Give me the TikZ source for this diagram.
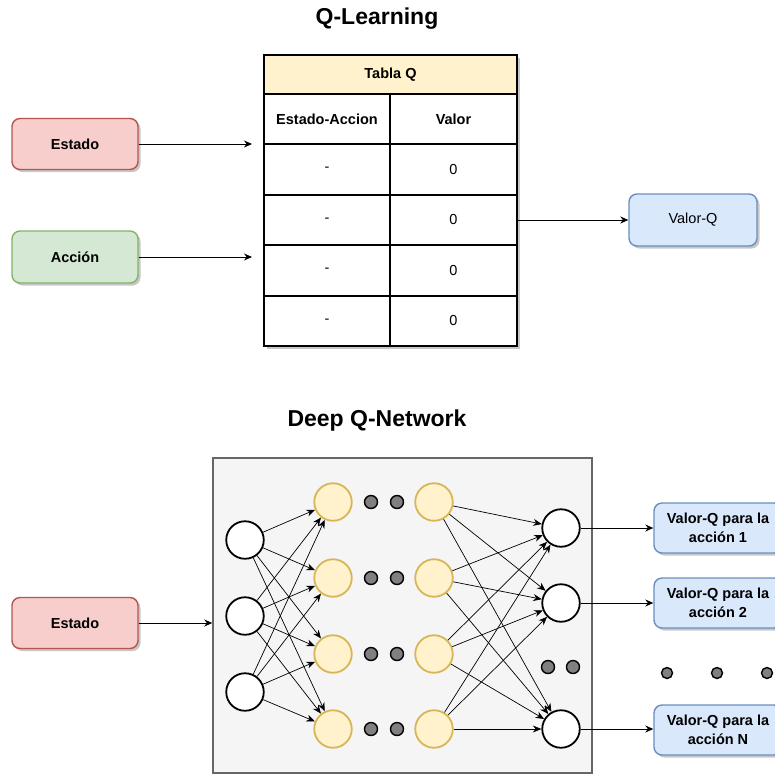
\documentclass[tikz,border=0pt]{standalone}
\usepackage{fontspec}
\setmainfont{Liberation Sans}
\usetikzlibrary{arrows.meta,shadows}

\definecolor{redfill}{HTML}{F8CECC}
\definecolor{redline}{HTML}{B85450}
\definecolor{greenfill}{HTML}{D5E8D4}
\definecolor{greenline}{HTML}{82B366}
\definecolor{bluefill}{HTML}{DAE8FC}
\definecolor{blueline}{HTML}{6C8EBF}
\definecolor{yelfill}{HTML}{FFF2CC}
\definecolor{yelline}{HTML}{D6B656}
\definecolor{panelfill}{HTML}{F5F5F5}
\definecolor{panelline}{HTML}{666666}
\definecolor{dotfill}{HTML}{808080}

\tikzset{
  txt/.style={font=\fontsize{14.5}{17}\selectfont},
  btxt/.style={font=\fontsize{14.5}{19}\selectfont\bfseries},
  title/.style={font=\fontsize{23}{27}\selectfont\bfseries},
  shade/.style={drop shadow={shadow xshift=2.5pt,shadow yshift=-2.5pt,opacity=.22,fill=black}},
  rbox/.style={rectangle, rounded corners=8pt, line width=1.4pt, minimum width=126pt,
               minimum height=51pt, align=center, inner sep=0pt, shade},
  cell/.style={rectangle, draw=black, line width=2pt, fill=white, minimum height=50.4pt,
               inner sep=0pt, txt, shade},
  arr/.style={-{Stealth[length=8pt,width=7pt]}, line width=0.9pt},
  narr/.style={-{Stealth[length=8.5pt,width=7pt]}, line width=0.7pt},
  neuron/.style={circle, draw=black, fill=white, line width=1.8pt, minimum size=37.5pt, inner sep=0pt},
  hidden/.style={circle, draw=yelline, fill=yelfill, line width=1.8pt, minimum size=37.5pt, inner sep=0pt},
  gdot/.style={circle, draw=black, fill=dotfill, line width=1.4pt, minimum size=13pt, inner sep=0pt},
}

\begin{document}
\begin{tikzpicture}[x=1pt,y=-1pt]
\useasboundingbox (0,0) rectangle (775,774);
\clip (0,0) rectangle (775,774);

% ---------- Q-Learning ----------
\node[title] (t1) at (377,18.5) {Q-Learning};

% table
\node[cell, fill=yelfill, btxt, minimum width=253pt, minimum height=39pt] (tq) at (390.5,74.5) {Tabla Q};
\node[cell, btxt, minimum width=126pt] (hk) at (327,119.2) {Estado-Accion};
\node[cell, btxt, minimum width=127pt] (hv) at (453.5,119.2) {Valor};
\foreach \i/\y in {1/169.6,2/220,3/270.4,4/320.8}{
  \node[cell, minimum width=126pt] (k\i) at (327,\y) {\raisebox{-2pt}{-}};
  \node[cell, minimum width=127pt] (v\i) at (453.5,\y) {0};
}

\node[rbox, draw=redline, fill=redfill, btxt] (est1) at (75,144) {Estado};
\node[rbox, draw=greenline, fill=greenfill, btxt, minimum height=52pt] (acc) at (75,257) {Acción};
\node[rbox, draw=blueline, fill=bluefill, txt, minimum width=128pt, minimum height=52pt] (valq) at (693,220) {Valor-Q};

\coordinate (in1) at (252,144);
\coordinate (in2) at (252,257);
\draw[arr] (est1) -- (in1);
\draw[arr] (acc) -- (in2);
\draw[arr] (v2.east) -- (valq);

% ---------- Deep Q-Network ----------
\node[title] (t2) at (377,420.5) {Deep Q-Network};

\node[rectangle, draw=panelline, fill=panelfill, line width=1.5pt,
      minimum width=379pt, minimum height=315pt, inner sep=0pt] (dqn) at (402.5,615.5) {};

\node[rbox, draw=redline, fill=redfill, btxt] (est2) at (75,623) {Estado};
\draw[arr] (est2) -- (est2 -| dqn.west);

% input layer
\foreach \i/\y in {1/540,2/616,3/692}
  \node[neuron] (i\i) at (245,\y) {};

% hidden layers with dots between them
\foreach \i/\y in {1/502,2/578,3/654,4/729}{
  \node[hidden] (h\i) at (333,\y) {};
  \node[hidden] (g\i) at (434,\y) {};
  \node[gdot] (da\i) at (371,\y) {};
  \node[gdot] (db\i) at (397,\y) {};
}

% output layer
\node[neuron] (o1) at (561,528) {};
\node[neuron] (o2) at (561,603) {};
\node[neuron] (o3) at (561,729) {};
\node[gdot] (od1) at (548,667) {};
\node[gdot] (od2) at (573,667) {};

% connections
\foreach \a in {1,2,3}
  \foreach \b in {1,2,3,4}
    \draw[narr] (i\a) -- (h\b);
\foreach \a in {1,2,3,4}
  \foreach \b in {1,2,3}
    \draw[narr] (g\a) -- (o\b);

% Q-value outputs
\node[rbox, draw=blueline, fill=bluefill, btxt, minimum width=128pt, minimum height=50pt] (q1) at (718,528) {Valor-Q para la\\acción 1};
\node[rbox, draw=blueline, fill=bluefill, btxt, minimum width=128pt, minimum height=50pt] (q2) at (718,603) {Valor-Q para la\\acción 2};
\node[rbox, draw=blueline, fill=bluefill, btxt, minimum width=128pt, minimum height=50pt] (q3) at (718,730) {Valor-Q para la\\acción N};
\draw[arr] (o1) -- (q1);
\draw[arr] (o2) -- (q2);
\draw[arr] (o3) -- (o3 -| q3.west);

\node[gdot, minimum size=11pt] (qd1) at (667,673) {};
\node[gdot, minimum size=11pt] (qd2) at (717,673) {};
\node[gdot, minimum size=11pt] (qd3) at (767,673) {};
\end{tikzpicture}
\end{document}
